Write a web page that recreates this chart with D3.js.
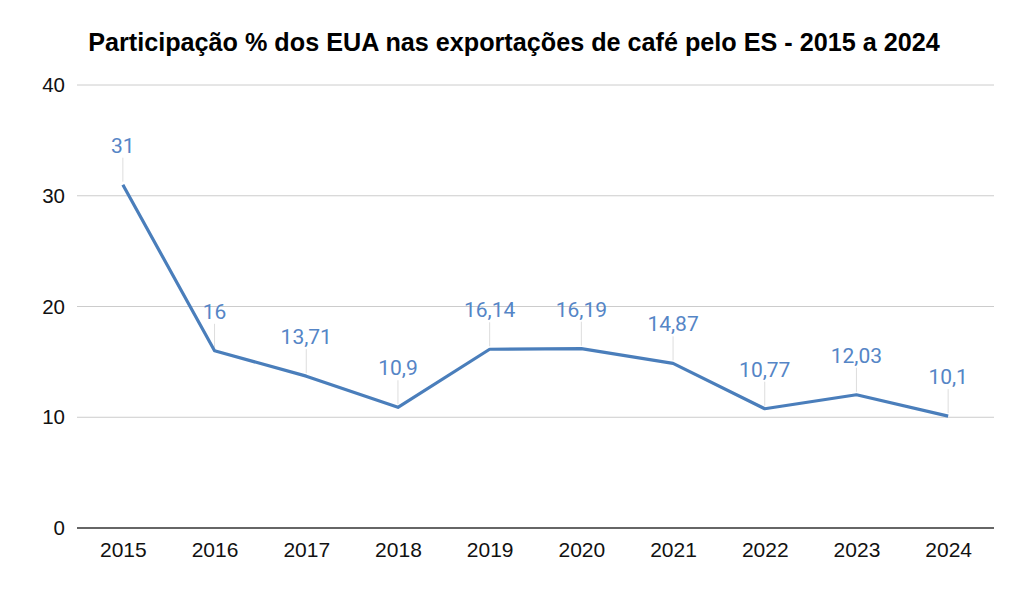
<!DOCTYPE html>
<html>
<head>
<meta charset="utf-8">
<script src="https://cdn.jsdelivr.net/npm/d3@7"></script>
<style>
  body { margin: 0; background: #fff; }
</style>
</head>
<body>
<div id="chart"></div>
<script>
const years = ["2015", "2016", "2017", "2018", "2019", "2020", "2021", "2022", "2023", "2024"];
const shares = [31, 16, 13.71, 10.9, 16.14, 16.19, 14.87, 10.77, 12.03, 10.1];
const yTicks = [0, 10, 20, 30, 40];

const width = 1024;
const height = 590;
const margin = { top: 85, right: 30, bottom: 62, left: 77 };

const svg = d3.select("#chart")
  .append("svg")
  .attr("width", width)
  .attr("height", height);

const x = d3.scalePoint()
  .domain(years)
  .range([margin.left, width - margin.right])
  .padding(0.5);

const y = d3.scaleLinear()
  .domain([0, 40])
  .range([height - margin.bottom, margin.top]);

// title
svg.append("text")
  .attr("x", 514)
  .attr("y", 51)
  .attr("text-anchor", "middle")
  .style("font-family", "'Liberation Sans', Arial, sans-serif")
  .style("font-weight", "bold")
  .style("font-size", "25.2px")
  .attr("fill", "#000")
  .text("Participação % dos EUA nas exportações de café pelo ES - 2015 a 2024");

// gridlines
svg.append("g")
  .selectAll("line")
  .data(yTicks.filter(d => d > 0))
  .enter()
  .append("line")
  .attr("x1", margin.left)
  .attr("x2", width - margin.right)
  .attr("y1", d => y(d))
  .attr("y2", d => y(d))
  .attr("stroke", "#cccccc")
  .attr("stroke-width", 1);

// y axis labels
const yAxis = svg.append("g")
  .attr("transform", `translate(${margin.left - 12},0)`)
  .call(d3.axisLeft(y).tickValues(yTicks).tickSize(0).tickPadding(0));
yAxis.select(".domain").remove();
yAxis.selectAll("text")
  .style("font-family", "'Liberation Sans', Arial, sans-serif")
  .style("font-size", "20.5px")
  .attr("fill", "#111");

// baseline
svg.append("line")
  .attr("x1", margin.left)
  .attr("x2", width - margin.right)
  .attr("y1", y(0))
  .attr("y2", y(0))
  .attr("stroke", "#333")
  .attr("stroke-width", 1.5);

// x axis labels
const xAxis = svg.append("g")
  .attr("transform", `translate(0,${y(0)})`)
  .call(d3.axisBottom(x).tickSize(0).tickPadding(14));
xAxis.select(".domain").remove();
xAxis.selectAll("text")
  .style("font-family", "'Liberation Sans', Arial, sans-serif")
  .style("font-size", "21px")
  .attr("fill", "#111");

const points = years.map((yr, i) => ({ year: yr, value: shares[i] }));

// leader lines
svg.append("g")
  .selectAll("line")
  .data(points)
  .enter()
  .append("line")
  .attr("x1", d => x(d.year))
  .attr("x2", d => x(d.year))
  .attr("y1", d => y(d.value) - 3)
  .attr("y2", d => y(d.value) - 27)
  .attr("stroke", "#dddddd")
  .attr("stroke-width", 1);

// line
const line = d3.line()
  .x(d => x(d.year))
  .y(d => y(d.value));

svg.append("path")
  .datum(points)
  .attr("d", line)
  .attr("fill", "none")
  .attr("stroke", "#4a7ebb")
  .attr("stroke-width", 3.2)
  .attr("stroke-linejoin", "round");

// data labels
svg.append("g")
  .selectAll("text")
  .data(points)
  .enter()
  .append("text")
  .attr("x", d => x(d.year))
  .attr("y", d => y(d.value) - 32)
  .attr("text-anchor", "middle")
  .style("font-family", "Roboto, sans-serif")
  .style("font-size", "21px")
  .attr("fill", "#5585c6")
  .text(d => String(d.value).replace(".", ","));
</script>
</body>
</html>
